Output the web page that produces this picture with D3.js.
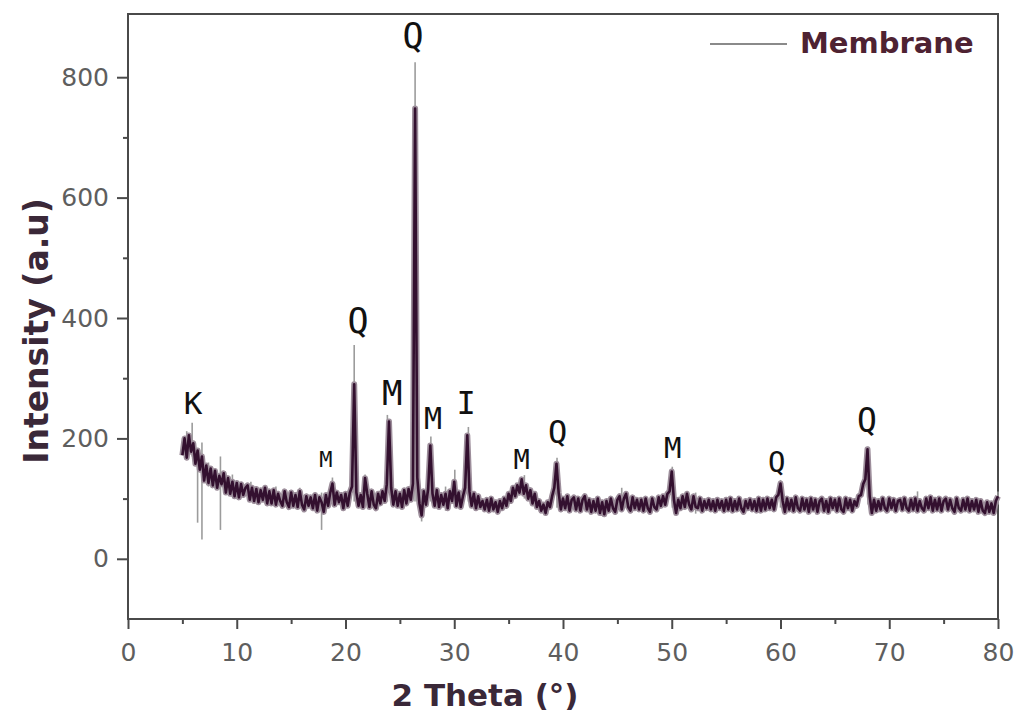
<!DOCTYPE html>
<html>
<head>
<meta charset="utf-8">
<script src="https://d3js.org/d3.v7.min.js"></script>
<style>
    body { margin: 0; background: #ffffff; }
    svg { display: block; }
</style>
</head>
<body>
<svg id="sketchbook"></svg>
<script>
// 2 theta grid: 5.0 .. 80.0, step 0.2 (one row = 2 degrees)
let thetaStart = 5.0;
let thetaStep  = 0.2;

// intensity
let intensity = [
    172, 200, 168, 205, 178, 192, 158, 180, 148, 170,   //  5.0
    130, 155, 126, 150, 122, 146, 118, 138, 124, 142,   //  7.0
    110, 134, 108, 128, 104, 126, 102, 124, 106, 118,   //  9.0
    122,  98, 118,  96, 116,  94, 114,  98, 118,  92,   // 11.0
    112,  92, 114,  90, 108,  96,  88, 112,  94,  86,   // 13.0
    110,  88, 106,  86, 112,  90,  82, 104,  88, 102,   // 15.0
     84, 106,  80, 102,  94,  78, 106,  88, 110, 125,   // 17.0
     90, 110,  94, 106,  84, 108,  88, 110, 120, 290,   // 19.0
    110,  88, 106,  86, 134, 108,  86, 112,  90,  84,   // 21.0
    108,  92, 112,  96, 124, 228, 118,  90, 112,  88,   // 23.0
    108,  86, 114,  92, 116,  98, 125, 748, 135,  92,   // 25.0
     72, 112,  90, 116, 188, 108,  88, 114,  86, 106,   // 27.0
     90, 108,  84, 112,  96, 128,  88, 110,  86, 104,   // 29.0
    118, 205, 112,  88, 108,  84, 104,  86,  96,  82,   // 31.0
     98,  80, 100,  82,  94,  78,  96,  84, 100,  88,   // 33.0
    108,  96, 118, 104, 122, 110, 132, 108, 122, 100,   // 35.0
    114,  92, 108,  86,  96,  80,  90,  76,  94,  86,   // 37.0
    104, 118, 158, 110,  82, 100,  84, 104,  80,  98,   // 39.0
    102,  82, 100,  80,  98, 104,  82,  98,  78,  96,   // 41.0
     80, 100,  76,  94,  74,  96,  80, 100,  84,  78,   // 43.0
     98, 104,  82, 100, 108,  86,  80, 102,  84,  98,   // 45.0
     82,  98,  80, 100,  84,  78, 100,  86,  82, 102,   // 47.0
     88, 104,  90, 108, 112, 145,  98,  76,  98,  84,   // 49.0
    104,  86, 108,  90,  82, 104,  86,  84, 100,  80,   // 51.0
     96,  84,  98,  82,  96,  80,  98,  84,  96,  80,   // 53.0
     98,  82, 100,  80,  96,  82, 100,  84,  78,  96,   // 55.0
     84,  98,  82,  96,  80, 100,  80,  98,  82, 100,   // 57.0
     84,  98,  82, 102, 106, 125,  96,  78, 100,  82,   // 59.0
     98,  80, 102,  84,  80, 100,  82,  98,  78, 100,   // 61.0
     82,  98,  78,  96, 100,  80,  96,  78, 100,  84,   // 63.0
     98,  80, 100,  82,  78, 100,  84,  98,  80,  96,   // 65.0
     88, 104, 106, 124, 132, 182, 104,  76,  98,  80,   // 67.0
     96,  82, 100,  84,  80, 100,  84,  98,  80,  96,   // 69.0
     98,  82, 100,  84,  80,  98,  82, 100,  80,  96,   // 71.0
     84,  80, 100,  84, 102,  80,  98,  82, 100,  80,   // 73.0
     96, 100,  82,  98,  84,  78, 100,  84,  80,  98,   // 75.0
     82, 100,  80,  96,  82,  98,  78,  96,  80,  76,   // 77.0
     94,  78,  92,  76,  96, 104                        // 79.0
];

// light grey raw spikes: [2theta, high, low]
let spikes = [
    [5.4, 212, 165], [5.9, 226, 170], [6.4, 175, 60], [6.8, 193, 32],
    [7.4, 160, 120], [8.5, 170, 48], [9.6, 140, 105], [11.3, 128, 95],
    [13.6, 120, 90], [15.8, 118, 86], [17.8, 110, 48], [18.8, 135, 95],
    [20.8, 355, 95], [21.8, 140, 95], [23.85, 239, 95], [26.4, 825, 740],
    [27.0, 105, 62], [27.85, 203, 95], [29.2, 120, 80], [30.05, 148, 95],
    [31.3, 219, 95], [36.45, 139, 100], [39.45, 168, 85], [45.4, 118, 80],
    [50.05, 153, 85], [52.2, 110, 75], [60.0, 131, 85], [68.05, 186, 90],
    [72.6, 112, 80], [80.0, 112, 90]
];

// broad grey foot of the main quartz reflection: [2theta, high, low]
let peakFoot = [ [26.45, 320, 95] ];

// phase labels: [text, 2theta, intensity at baseline]
let phaseLabels = [
    ['K',  5.98, 240], ['M', 18.2, 152], ['Q', 21.15, 375], ['M', 24.3, 255],
    ['Q', 26.2, 848],  ['M', 28.05, 216], ['I', 31.1, 240], ['M', 36.2, 150],
    ['Q', 39.5, 193],  ['M', 50.1, 168], ['Q', 59.65, 145], ['Q', 67.95, 210]
];
let phaseLabelSize = [31, 22, 35, 34, 35, 30, 32, 27, 32, 29, 29, 33];

let xTicks = [0, 10, 20, 30, 40, 50, 60, 70, 80];
let xMinor = [5, 15, 25, 35, 45, 55, 65, 75];
let yTicks = [0, 200, 400, 600, 800];
let yMinor = [100, 300, 500, 700];
let xDomain = [0, 80];
let yDomain = [-100, 905];
let seriesName = 'Membrane';

function makeSvg () {
    let w = 1021;
    let h = 719;
    let svg = d3.select('#sketchbook')
        .attr('width', w)
        .attr('height', h);
    return svg;
}
function drawAxes (svg, x, y) {
    let frame = svg.append('g').attr('class', 'frame');

    frame.append('rect')
        .attr('x', x(xDomain[0]))
        .attr('y', y(yDomain[1]))
        .attr('width', x(xDomain[1]) - x(xDomain[0]))
        .attr('height', y(yDomain[0]) - y(yDomain[1]))
        .attr('fill', 'none')
        .attr('stroke', '#4a4a4a')
        .attr('stroke-width', 2);

    let xAxis = frame.append('g')
        .attr('transform', 'translate(0,' + y(yDomain[0]) + ')')
        .call(d3.axisBottom(x).tickValues(xTicks).tickSize(10).tickPadding(14));
    xAxis.append('g')
        .call(d3.axisBottom(x).tickValues(xMinor).tickSize(5).tickFormat(''));

    let yAxis = frame.append('g')
        .attr('transform', 'translate(' + x(xDomain[0]) + ',0)')
        .call(d3.axisLeft(y).tickValues(yTicks).tickSize(11).tickPadding(8));
    yAxis.append('g')
        .call(d3.axisLeft(y).tickValues(yMinor).tickSize(5).tickFormat(''));

    frame.selectAll('.domain').remove();
    frame.selectAll('.tick line')
        .attr('stroke', '#4a4a4a')
        .attr('stroke-width', 2);
    frame.selectAll('.tick text')
        .attr('fill', '#5e5e5e')
        .style('font-family', 'DejaVu Sans, sans-serif')
        .style('font-size', '25px');

    svg.append('text')
        .attr('x', 485)
        .attr('y', 706)
        .attr('text-anchor', 'middle')
        .attr('fill', '#3a2838')
        .style('font-family', 'DejaVu Sans, sans-serif')
        .style('font-weight', 'bold')
        .style('font-size', '31px')
        .text('2 Theta (°)');

    svg.append('text')
        .attr('transform', 'translate(48,331) rotate(-90)')
        .attr('text-anchor', 'middle')
        .attr('fill', '#3a2838')
        .style('font-family', 'DejaVu Sans, sans-serif')
        .style('font-weight', 'bold')
        .style('font-size', '33px')
        .text('Intensity (a.u)');
}
function drawPattern (svg, x, y) {
    let data = intensity.map((v, i) => {
        return { t: thetaStart + i * thetaStep, v: v };
    });
    let line = d3.line()
        .x((d) => { return x(d.t); })
        .y((d) => { return y(d.v); });

    let g = svg.append('g').attr('class', 'pattern');

    g.selectAll('line.foot')
        .data(peakFoot)
        .enter()
        .append('line')
        .attr('class', 'foot')
        .attr('x1', (d) => { return x(d[0]); })
        .attr('x2', (d) => { return x(d[0]); })
        .attr('y1', (d) => { return y(d[1]); })
        .attr('y2', (d) => { return y(d[2]); })
        .attr('stroke', '#b4b4b4')
        .attr('stroke-width', 4);

    g.selectAll('line.spike')
        .data(spikes)
        .enter()
        .append('line')
        .attr('class', 'spike')
        .attr('x1', (d) => { return x(d[0]); })
        .attr('x2', (d) => { return x(d[0]); })
        .attr('y1', (d) => { return y(d[1]); })
        .attr('y2', (d) => { return y(d[2]); })
        .attr('stroke', '#9c9c9c')
        .attr('stroke-width', 1.6);

    g.append('path')
        .datum(data)
        .attr('d', line)
        .attr('fill', 'none')
        .attr('stroke', '#9d8e9b')
        .attr('stroke-width', 6)
        .attr('stroke-linejoin', 'round');

    g.append('path')
        .datum(data)
        .attr('d', line)
        .attr('fill', 'none')
        .attr('stroke', '#33102f')
        .attr('stroke-width', 2.6)
        .attr('stroke-linejoin', 'round');
}
function drawLabels (svg, x, y) {
    svg.append('g')
        .attr('class', 'phases')
        .selectAll('text')
        .data(phaseLabels)
        .enter()
        .append('text')
        .attr('x', (d) => { return x(d[1]); })
        .attr('y', (d) => { return y(d[2]); })
        .attr('text-anchor', 'middle')
        .attr('fill', '#111111')
        .style('font-family', 'DejaVu Sans Mono, monospace')
        .style('font-size', (d, i) => { return phaseLabelSize[i] + 'px'; })
        .text((d) => { return d[0]; });
}
function drawLegend (svg) {
    let g = svg.append('g').attr('class', 'legend');
    g.append('line')
        .attr('x1', 710)
        .attr('x2', 787)
        .attr('y1', 44)
        .attr('y2', 44)
        .attr('stroke', '#8a8a8a')
        .attr('stroke-width', 2);
    g.append('text')
        .attr('x', 800)
        .attr('y', 53)
        .attr('fill', '#4e2232')
        .style('font-family', 'DejaVu Sans, sans-serif')
        .style('font-weight', 'bold')
        .style('font-size', '29px')
        .text(seriesName);
}

let svg = makeSvg();
let x = d3.scaleLinear().domain(xDomain).range([128, 998]);
let y = d3.scaleLinear().domain(yDomain).range([619, 14]);

drawAxes(svg, x, y);
drawPattern(svg, x, y);
drawLabels(svg, x, y);
drawLegend(svg);
</script>
</body>
</html>
